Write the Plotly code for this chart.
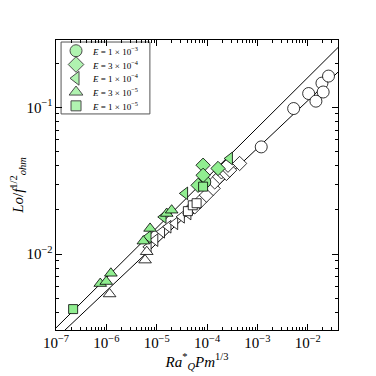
import numpy as np
import plotly.graph_objects as go

# --- data ---
# open (white) markers, lower branch
open_circle_x = [1.19e-3, 5.24e-3, 1.04e-2, 1.45e-2, 1.91e-2, 2.02e-2, 2.58e-2]
open_circle_y = [0.0537, 0.098, 0.124, 0.110, 0.146, 0.127, 0.163]

open_diamond_x = [4.92e-5, 5.72e-5, 7.18e-5, 9.73e-5, 1.32e-4, 1.42e-4, 1.78e-4, 1.93e-4, 2.42e-4, 2.81e-4, 2.6e-4, 4.43e-4]
open_diamond_y = [0.0205, 0.0210, 0.0227, 0.0252, 0.0280, 0.0310, 0.0336, 0.0363, 0.0354, 0.0373, 0.0403, 0.0414]

open_left_x = [6.82e-6, 9.27e-6, 1.26e-5, 1.69e-5, 2.3e-5, 3.12e-5, 4.21e-5]
open_left_y = [0.0112, 0.01245, 0.0142, 0.01535, 0.0162, 0.01795, 0.0189]

open_up_x = [1.16e-6, 5.87e-6, 6.34e-6]
open_up_y = [5.35e-3, 9.1e-3, 0.01038]

open_square_x = [4.16e-5, 5.2e-5, 6.2e-5]
open_square_y = [0.0196, 0.0215, 0.0222]

# green markers, upper branch
green_circle_x = [9.0e-5]
green_circle_y = [0.0310]

green_diamond_x = [8.34e-5, 8.34e-5, 1.65e-4, 6.63e-5]
green_diamond_y = [0.0403, 0.0344, 0.0383, 0.0294]

green_left_x = [6.8e-6, 1.35e-5, 3.62e-5, 2.81e-4]
green_left_y = [0.0131, 0.0179, 0.0259, 0.0448]

green_up_x = [7.57e-7, 9.95e-7, 1.23e-6, 5.43e-6, 7.38e-6, 1.58e-5, 1.98e-5]
green_up_y = [6.3e-3, 6.5e-3, 7.4e-3, 0.01225, 0.01495, 0.0189, 0.0199]

green_square_x = [2.19e-7, 8.34e-5]
green_square_y = [4.22e-3, 0.0288]

# power-law fits  y = c * x**p
fit_upper = (0.766, 0.341)
fit_lower = (0.493, 0.324)

legend_labels = ["<i>E</i> = 1 × 10<sup>−3</sup>", "<i>E</i> = 3 × 10<sup>−4</sup>",
                 "<i>E</i> = 1 × 10<sup>−4</sup>", "<i>E</i> = 3 × 10<sup>−5</sup>",
                 "<i>E</i> = 1 × 10<sup>−5</sup>"]

GREEN = "#90EE90"
FONT = "Liberation Serif"

fig = go.Figure()

xfit = np.logspace(-7, -1.4, 50)
for c, p in (fit_upper, fit_lower):
    fig.add_trace(go.Scatter(x=xfit, y=c * xfit ** p, mode="lines",
                             line=dict(color="black", width=1), showlegend=False,
                             hoverinfo="skip"))

open_sets = [
    (open_circle_x, open_circle_y, "circle", 12),
    (open_diamond_x, open_diamond_y, "diamond", 11),
    (open_left_x, open_left_y, "triangle-left", 11),
    (open_up_x, open_up_y, "triangle-up", 11),
    (open_square_x, open_square_y, "square", 9),
]
for x, y, sym, sz in open_sets:
    fig.add_trace(go.Scatter(x=x, y=y, mode="markers", showlegend=False,
                             marker=dict(symbol=sym, size=sz, color="white",
                                         line=dict(color="black", width=0.8))))

green_sets = [
    (green_circle_x, green_circle_y, "circle", 12),
    (green_diamond_x, green_diamond_y, "diamond", 11),
    (green_left_x, green_left_y, "triangle-left", 11),
    (green_up_x, green_up_y, "triangle-up", 11),
    (green_square_x, green_square_y, "square", 9),
]
for x, y, sym, sz in green_sets:
    fig.add_trace(go.Scatter(x=x, y=y, mode="markers", showlegend=False,
                             marker=dict(symbol=sym, size=sz, color=GREEN,
                                         line=dict(color="black", width=0.8))))

# hand-made legend (native plotly rows are too tall here), on a hidden overlay axis
leg_x0, leg_x1, leg_y0, leg_y1 = 0.018, 0.333, 0.745, 0.993
row_y = np.linspace(0.963, 0.773, len(green_sets))
fig.add_shape(type="rect", xref="paper", yref="paper", x0=leg_x0, x1=leg_x1,
              y0=leg_y0, y1=leg_y1, line=dict(color="#555555", width=1),
              fillcolor="white", layer="below")
fig.add_trace(go.Scatter(
    x=[0.071] * len(green_sets), y=row_y, mode="markers", xaxis="x2", yaxis="y2",
    showlegend=False, hoverinfo="skip",
    marker=dict(symbol=[s[2] for s in green_sets], size=[12, 12, 12, 12, 10],
                color=GREEN, line=dict(color="black", width=1))))
for yy, label in zip(row_y, legend_labels):
    fig.add_annotation(x=0.121, y=yy, xref="paper", yref="paper", text=label,
                       showarrow=False, xanchor="left", yanchor="middle",
                       font=dict(family=FONT, size=9, color="black"))

axis_common = dict(type="log", showgrid=False, zeroline=False, showline=True,
                   linecolor="black", linewidth=1, mirror="allticks",
                   ticks="inside", ticklen=6, tickcolor="black", dtick=1,
                   exponentformat="power", automargin=False,
                   minor=dict(ticks="inside", ticklen=3, tickcolor="black", dtick="D1"),
                   tickfont=dict(family=FONT, size=12, color="black"))

fig.update_xaxes(**axis_common, range=[-7, -1.4],
                 title=dict(text="<i>Ra</i><sup>*</sup><sub><i>Q</i></sub><i>Pm</i><sup>1/3</sup>",
                            font=dict(family=FONT, size=15, color="black"), standoff=2))
fig.update_yaxes(**axis_common, range=[-2.517, -0.542],
                 title=dict(text="<i>Lo</i>/<i>f</i><sup>1/2</sup><sub><i>ohm</i></sub>",
                            font=dict(family=FONT, size=15, color="black"), standoff=6))

fig.update_layout(
    width=368, height=368,
    margin=dict(l=48, r=38, t=32, b=46),
    plot_bgcolor="white", paper_bgcolor="white",
    xaxis2=dict(overlaying="x", range=[0, 1], visible=False),
    yaxis2=dict(overlaying="y", range=[0, 1], visible=False),
)

fig.write_html("out.html")
